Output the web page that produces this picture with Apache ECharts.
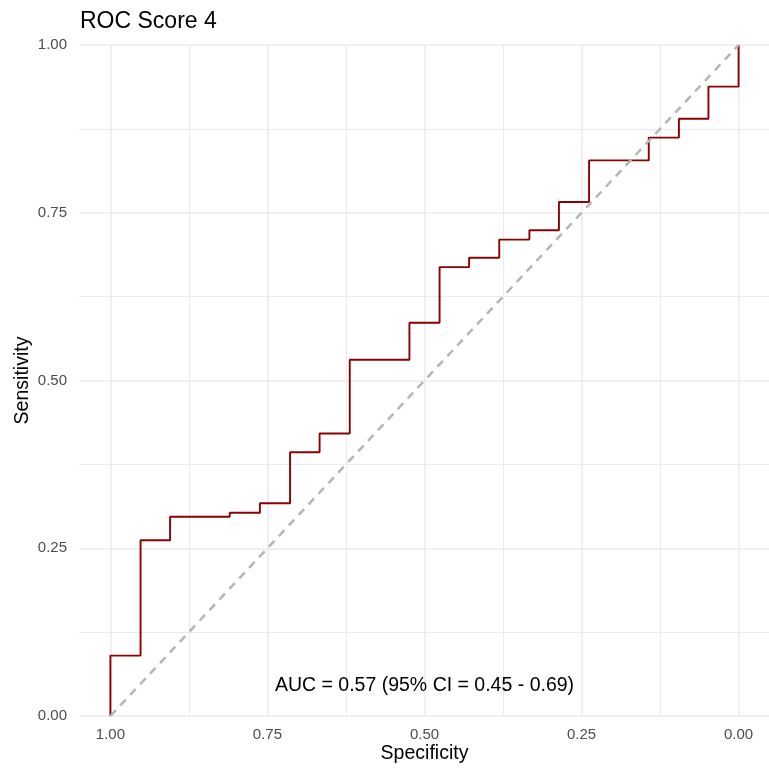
<!DOCTYPE html>
<html><head><meta charset="utf-8">
<script src="https://cdn.jsdelivr.net/npm/echarts@6/dist/echarts.min.js"></script>
<style>html,body{margin:0;padding:0;background:#fff}#c{width:769px;height:769px}</style>
</head><body><div id="c"></div>
<script>
// ---- data ----
const titleText = 'ROC Score 4';
const xName = 'Specificity';
const yName = 'Sensitivity';
const specificity = [1.000, 1.000, 0.952, 0.905, 0.810, 0.762, 0.714, 0.667, 0.619, 0.524, 0.476, 0.429, 0.381, 0.333, 0.286, 0.238, 0.143, 0.095, 0.048, 0.000];
const sensitivity = [0.000, 0.090, 0.262, 0.297, 0.303, 0.317, 0.393, 0.421, 0.531, 0.586, 0.669, 0.683, 0.710, 0.724, 0.766, 0.828, 0.862, 0.890, 0.938, 1.000];
const diagSpec = [1, 0];
const diagSens = [0, 1];
const majorTicks = [0, 0.25, 0.5, 0.75, 1];
const minorTicks = [0.125, 0.375, 0.625, 0.875];
const aucText = 'AUC = 0.57 (95% CI = 0.45 - 0.69)';
const aucSpec = 0.5;
const aucSens = 0.05;

const FONT = 'Liberation Sans';
const GRID = '#EBEBEB';
const fmt = v => Number(v).toFixed(2);

const rocData = specificity.map((s, i) => [s, sensitivity[i]]);
const diagData = diagSpec.map((s, i) => [s, diagSens[i]]);

const chart = echarts.init(document.getElementById('c'), null, {renderer: 'canvas'});
chart.setOption({
  animation: false,
  backgroundColor: '#ffffff',
  title: {
    text: titleText, left: 80, top: 10, padding: 0,
    textStyle: {fontFamily: FONT, fontSize: 23, fontWeight: 'normal', color: '#000'}
  },
  grid: {left: 79, right: -1, top: 45, bottom: 53, containLabel: false, outerBoundsMode: 'none'},
  xAxis: [{
    type: 'value', min: -0.05, max: 1.05, inverse: true,
    name: xName, nameLocation: 'middle', nameGap: 28, nameMoveOverlap: false,
    nameTextStyle: {fontFamily: FONT, fontSize: 19.5, color: '#000'},
    axisLine: {show: false},
    axisTick: {show: false, customValues: majorTicks},
    axisLabel: {customValues: majorTicks, formatter: fmt, margin: 11,
      fontFamily: FONT, fontSize: 15, color: '#4D4D4D'},
    splitLine: {show: true, lineStyle: {color: GRID, width: 1.6}}
  }, {
    type: 'value', min: -0.05, max: 1.05, inverse: true, position: 'bottom',
    axisLine: {show: false},
    axisTick: {show: false, customValues: minorTicks},
    axisLabel: {show: false, customValues: minorTicks},
    splitLine: {show: true, lineStyle: {color: GRID, width: 1}}
  }],
  yAxis: {
    type: 'value', min: 0, max: 1, interval: 0.25,
    name: yName, nameLocation: 'middle', nameGap: 46, nameMoveOverlap: false,
    nameTextStyle: {fontFamily: FONT, fontSize: 19.5, color: '#000'},
    axisLine: {show: false},
    axisTick: {show: false},
    minorTick: {show: false, splitNumber: 2},
    axisLabel: {formatter: fmt, margin: 12, padding: [3, 0, 0, 0],
      fontFamily: FONT, fontSize: 15, color: '#4D4D4D'},
    splitLine: {show: true, lineStyle: {color: GRID, width: 1.6}},
    minorSplitLine: {show: true, lineStyle: {color: GRID, width: 1}}
  },
  series: [{
    type: 'line', name: 'roc', data: rocData, step: 'end',
    showSymbol: false, symbol: 'none', z: 3,
    lineStyle: {color: '#8B0000', width: 1.9}
  }, {
    type: 'line', name: 'diag', data: diagData,
    showSymbol: false, symbol: 'none', z: 4,
    lineStyle: {color: '#B5B5B5', width: 2.5, type: [8, 6.5]}
  }, {
    type: 'scatter', name: 'auc', data: [[aucSpec, aucSens]], symbolSize: 1,
    itemStyle: {color: 'rgba(0,0,0,0)'}, z: 5, silent: true,
    label: {show: true, position: 'inside', offset: [0, 3], formatter: aucText,
      fontFamily: FONT, fontSize: 19.5, color: '#000000', textBorderWidth: 0, opacity: 1}
  }]
});
</script></body></html>
